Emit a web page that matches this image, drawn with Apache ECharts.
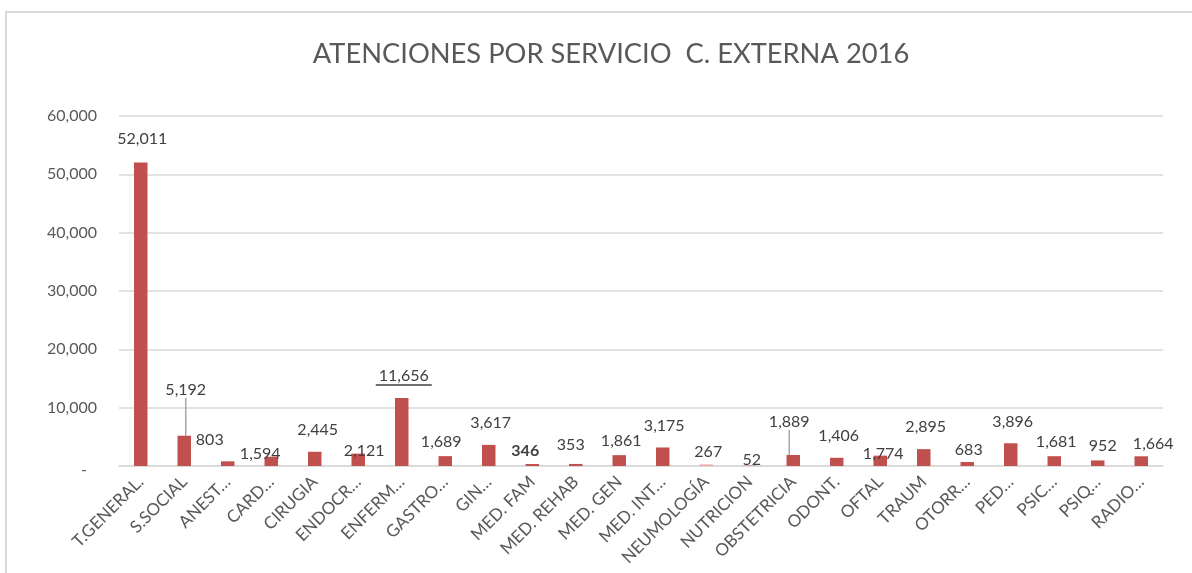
<!DOCTYPE html>
<html>
<head>
<meta charset="utf-8">
<script src="https://cdn.jsdelivr.net/npm/echarts@6/dist/echarts.min.js"></script>
<style>
  html, body { margin: 0; padding: 0; background: #fff; }
  #chart { width: 1192px; height: 573px; }
</style>
</head>
<body>
<div id="chart"></div>
<script>
const categories = ['T.GENERAL.', 'S.SOCIAL', 'ANEST…', 'CARD…', 'CIRUGIA', 'ENDOCR…', 'ENFERM…', 'GASTRO…', 'GIN…',
  'MED. FAM', 'MED. REHAB', 'MED. GEN', 'MED. INT…', 'NEUMOLOGÍA', 'NUTRICION', 'OBSTETRICIA', 'ODONT.', 'OFTAL',
  'TRAUM', 'OTORR…', 'PED…', 'PSIC…', 'PSIQ…', 'RADIO…']
const values = [52011, 5192, 803, 1594, 2445, 2121, 11656, 1689, 3617, 346, 353, 1861, 3175, 267, 52, 1889, 1406, 1774,
  2895, 683, 3896, 1681, 952, 1664]
const yTicks = [0, 10000, 20000, 30000, 40000, 50000, 60000]

// label nudges (dx, dy) in px, as placed by hand in the original
const labelOffsets = [[1.5, -15.6], [1.5, -37.7], [-18, -13.3], [-11, 4.8], [3, -14.2], [6, 4.9], [2, -12], [-4, -6.1],
  [2, -14.5], [-7, -5.5], [-5, -11], [2, -6], [1.5, -14], [2, -4.4], [2, 2.3], [-4, -25], [2, -14.3], [3, 6.3],
  [2, -14.5], [1.5, -4], [2, -13.8], [2, -6.2], [5, -6.4], [12, -4.8]]
const leaderIdx = [1, 15]
const boldIdx = 9
const underlineIdx = 6
const lightIdx = 13

const fmt = v => v.toLocaleString('en-US')

const barData = values.map((v, i) => {
  const item = { value: v }
  if (i === lightIdx) item.itemStyle = { color: '#EBA9A7' }
  if (i === boldIdx) item.label = { fontWeight: 'bold' }
  if (leaderIdx.includes(i)) item.labelLine = { show: true }
  return item
})

var myChart = echarts.init(document.getElementById('chart'))
var option = {
  animation: false,
  textStyle: { fontFamily: 'Lato' },
  graphic: [{
    type: 'rect',
    shape: { x: 6, y: 12, width: 1220, height: 600 },
    style: { fill: 'none', stroke: '#D9D9D9', lineWidth: 2 },
    silent: true
  }],
  title: {
    text: 'ATENCIONES POR SERVICIO  C. EXTERNA 2016',
    left: 606,
    textAlign: 'center',
    top: 36,
    textStyle: { fontFamily: 'Lato', fontSize: 27.3, fontWeight: 'normal', color: '#595959' }
  },
  grid: { left: 119, right: 29, top: 116, bottom: 107 },
  xAxis: {
    type: 'category',
    data: categories,
    axisLine: { lineStyle: { color: '#D9D9D9', width: 1.5 } },
    axisTick: { show: false },
    axisLabel: {
      rotate: 45,
      interval: 0,
      margin: 13,
      padding: [40, 0, 0, 0],
      fontSize: 17,
      color: '#595959',
      fontFamily: 'Lato'
    }
  },
  yAxis: {
    type: 'value',
    min: 0,
    max: 60000,
    interval: 10000,
    axisLine: { show: false },
    axisTick: { show: false },
    splitLine: { lineStyle: { color: '#D9D9D9', width: 1.5 } },
    axisLabel: {
      margin: 22,
      fontSize: 16,
      color: '#595959',
      fontFamily: 'Lato',
      formatter: v => (yTicks.includes(v) && v === 0) ? '{d|-}' : fmt(v),
      rich: { d: { padding: [8, 10, 0, 0], fontSize: 16, color: '#595959' } }
    }
  },
  series: [{
    type: 'bar',
    data: barData,
    barWidth: '31%',
    itemStyle: { color: '#C0504D' },
    label: {
      show: true,
      position: 'top',
      distance: 0,
      fontSize: 16,
      lineHeight: 16,
      color: '#404040',
      fontFamily: 'Lato',
      formatter: p => p.dataIndex === underlineIdx ? '{v|' + fmt(p.value) + '}\n{u|}' : fmt(p.value),
      rich: {
        v: { fontSize: 16, lineHeight: 16, color: '#404040' },
        u: { width: 56, height: 1.5, lineHeight: 2, backgroundColor: '#404040' }
      }
    },
    labelLine: { show: false, lineStyle: { color: '#A6A6A6', width: 1.5 } },
    labelLayout: p => ({ dx: labelOffsets[p.dataIndex][0], dy: labelOffsets[p.dataIndex][1] })
  }]
}
option && myChart.setOption(option)
</script>
</body>
</html>
